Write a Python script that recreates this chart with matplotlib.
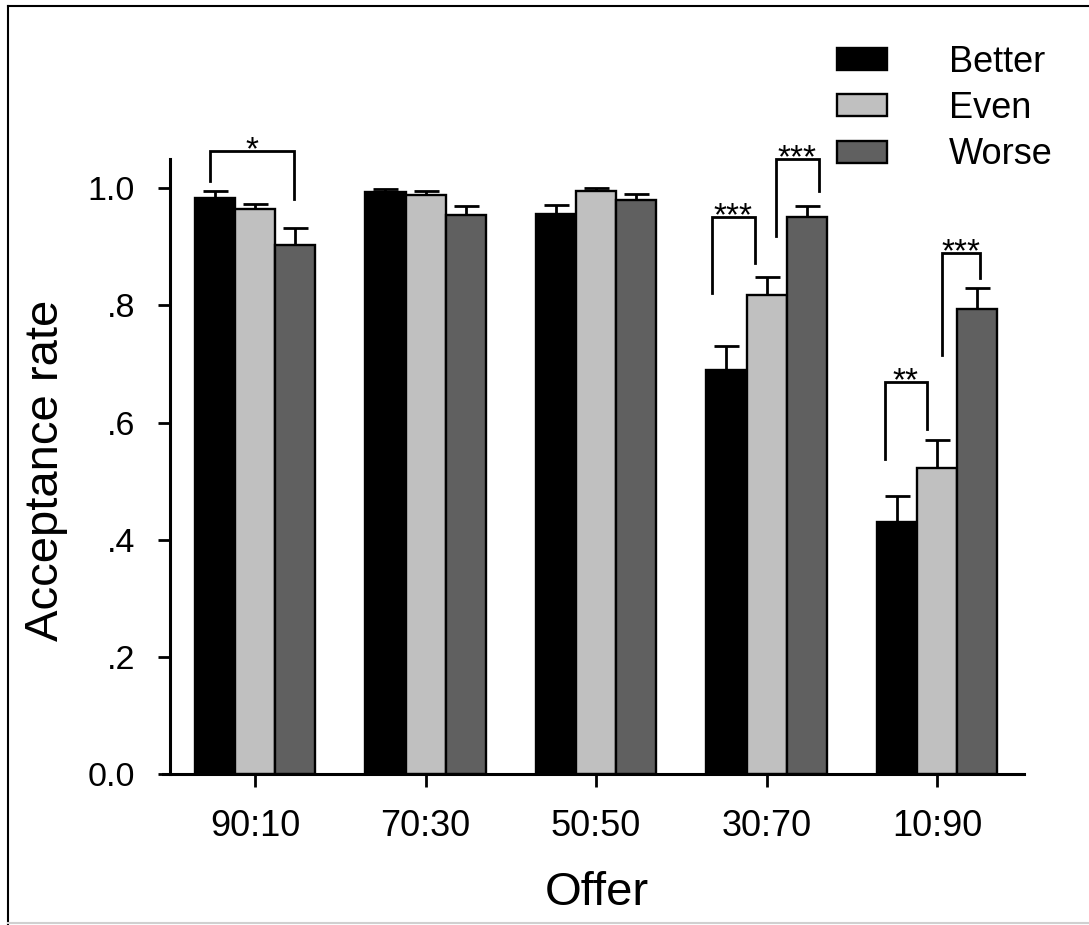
import matplotlib.pyplot as plt
from matplotlib.lines import Line2D
import numpy as np

plt.rcParams['font.family'] = ['Liberation Sans', 'DejaVu Sans']

offers = ["90:10", "70:30", "50:50", "30:70", "10:90"]
better = [0.984, 0.994, 0.956, 0.689, 0.430]
even = [0.964, 0.989, 0.996, 0.817, 0.522]
worse = [0.903, 0.954, 0.980, 0.951, 0.794]
better_err = [0.011, 0.004, 0.015, 0.041, 0.045]
even_err = [0.010, 0.007, 0.004, 0.032, 0.048]
worse_err = [0.030, 0.016, 0.010, 0.019, 0.036]

# significance brackets: group, left x-offset, right x-offset, top, left foot, right foot, label
brackets = [
    (0, -0.264, 0.229, 1.063, 1.012, 0.981, "*"),
    (3, -0.32, -0.07, 0.951, 0.821, 0.872, "***"),
    (3, 0.053, 0.307, 1.050, 0.918, 0.995, "***"),
    (4, -0.305, -0.06, 0.669, 0.538, 0.589, "**"),
    (4, 0.027, 0.252, 0.890, 0.715, 0.847, "***"),
]

fig = plt.figure(figsize=(10.89, 9.25), dpi=100)
ax = fig.add_axes([163/1089, (925-774)/925, (1024-163)/1089, (774-159)/925])

x = np.arange(len(offers))
w = 0.235
series = [(better, better_err, "#000000", "Better"),
          (even, even_err, "#c0c0c0", "Even"),
          (worse, worse_err, "#606060", "Worse")]
handles = []
for i, (vals, errs, col, lab) in enumerate(series):
    pos = x + (i - 1) * w
    b = ax.bar(pos, vals, width=w, color=col, edgecolor="black", linewidth=1.7,
               label=lab, zorder=2)
    handles.append(b)
    ax.errorbar(pos, vals, yerr=[np.zeros(len(errs)), errs], fmt="none",
                ecolor="black", elinewidth=2.0, capsize=9, capthick=2.0, zorder=1)

for g, xl, xr, top, fl, fr, lab in brackets:
    ax.plot([g + xl, g + xl, g + xr, g + xr], [fl, top, top, fr], color="black",
            lw=2.0, clip_on=False, solid_joinstyle="miter")
    ax.text(g + (xl + xr) / 2, top - 0.014, lab, ha="center", va="baseline",
            fontsize=24, clip_on=False)

for s in ["top", "right"]:
    ax.spines[s].set_visible(False)
ax.spines["left"].set_position(("axes", 0.008))
ax.spines["left"].set_linewidth(2.2)
ax.spines["bottom"].set_linewidth(2.2)

ax.set_xlim(-0.54, 4.51)
ax.set_ylim(0, 1.05)
ax.set_xticks(x)
ax.set_xticklabels(offers)
ax.set_yticks([0, 0.2, 0.4, 0.6, 0.8, 1.0])
ax.set_yticklabels(["0.0", ".2", ".4", ".6", ".8", "1.0"])
ax.tick_params(axis="both", direction="out", length=9, width=2, pad=16)
ax.tick_params(axis="x", labelsize=26)
ax.tick_params(axis="y", labelsize=24.5)

fig.text(597/1089, 1 - 893/925, "Offer", fontsize=34, ha="center", va="center")
fig.text(46/1089, 1 - 470/925, "Acceptance rate", fontsize=34, ha="center",
         va="center", rotation=90)

fig.legend(handles=handles, loc="upper left",
           bbox_to_anchor=(837/1089, 1 - 45/925), frameon=False, fontsize=26,
           handlelength=1.39, handleheight=0.56, handletextpad=1.7,
           labelspacing=0.31, borderpad=0, borderaxespad=0)

# outer frame
fig.add_artist(Line2D([8/1089, 8/1089], [0, 1 - 6/925], color="black", lw=1.5,
                      transform=fig.transFigure))
fig.add_artist(Line2D([8/1089, 1], [1 - 6/925, 1 - 6/925], color="black", lw=1.5,
                      transform=fig.transFigure))
fig.add_artist(Line2D([8/1089, 1], [2/925, 2/925], color="#d0d0d0", lw=1.5,
                      transform=fig.transFigure))

fig.savefig("out.png", dpi=100)
